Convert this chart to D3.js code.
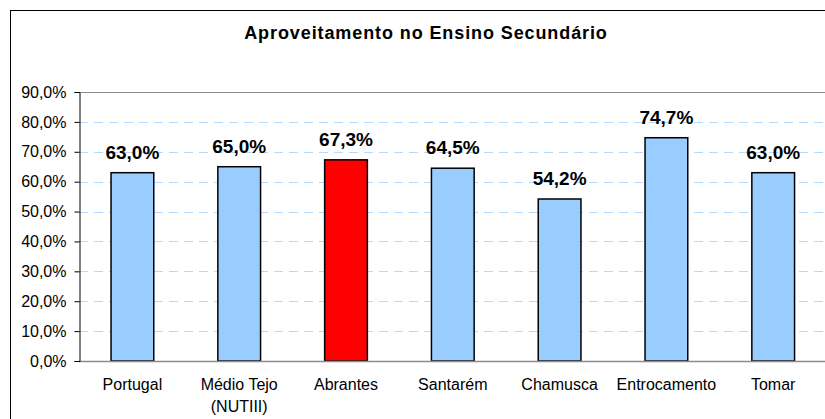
<html>
  <head>
    <script src="https://d3js.org/d3.v7.min.js" charset="utf-8"></script>
    <style type="text/css">
      body { margin: 0; padding: 0; background: #fff; }
      svg { display: block; font-family: "Liberation Sans", Arial, sans-serif; }
    </style>
  </head>
  <body>
    <div id="chart"></div>
    <script type="text/javascript">
      var categories = ["Portugal", "Médio Tejo|(NUTIII)", "Abrantes", "Santarém", "Chamusca", "Entrocamento", "Tomar"];
      var values = [63.0, 65.0, 67.3, 64.5, 54.2, 74.7, 63.0];
      var highlight = "Abrantes";
      var yTicks = [0, 10, 20, 30, 40, 50, 60, 70, 80, 90];
      var title = "Aproveitamento no Ensino Secundário";

      var width = 825, height = 419;
      var plotLeft = 79, plotTop = 92, plotBottom = 361, step = 106.8;

      var svg = d3.select("#chart").append("svg")
          .attr("width", width).attr("height", height);

      // outer frame (runs off the right and bottom of the picture)
      svg.append("rect")
          .attr("x", 10.5).attr("y", 10.5)
          .attr("width", 900).attr("height", 500)
          .attr("fill", "#fff").attr("stroke", "#000");

      var x = d3.scaleBand()
          .domain(categories)
          .range([plotLeft, plotLeft + step * categories.length])
          .paddingInner(0.6).paddingOuter(0.3);

      var y = d3.scaleLinear().domain([0, 90]).range([plotBottom, plotTop]);

      var fmt = function(v) { return d3.format(".1f")(v).replace(".", ",") + "%"; };

      // gridlines
      svg.append("g").selectAll("line")
          .data(yTicks.filter(function(d) { return d > 0 && d < 90; }))
          .enter().append("line")
          .attr("x1", plotLeft).attr("x2", width)
          .attr("y1", function(d) { return Math.round(y(d)) + 0.5; })
          .attr("y2", function(d) { return Math.round(y(d)) + 0.5; })
          .attr("stroke", "#b4dbff")
          .attr("stroke-dasharray", "9,6");

      // plot area top border
      svg.append("line")
          .attr("x1", plotLeft).attr("x2", width)
          .attr("y1", Math.round(y(90)) + 0.5).attr("y2", Math.round(y(90)) + 0.5)
          .attr("stroke", "#8c8c8c");

      // bars
      svg.append("g").selectAll("rect")
          .data(values)
          .enter().append("rect")
          .attr("x", function(d, i) { return x(categories[i]); })
          .attr("y", function(d) { return y(d); })
          .attr("width", x.bandwidth())
          .attr("height", function(d) { return y(0) - y(d); })
          .attr("fill", function(d, i) { return categories[i] == highlight ? "#ff0000" : "#99ccff"; })
          .attr("stroke", "#000")
          .attr("stroke-width", 1.5);

      // value labels
      svg.append("g").selectAll("text")
          .data(values)
          .enter().append("text")
          .attr("x", function(d, i) { return x(categories[i]) + x.bandwidth() / 2; })
          .attr("y", function(d) { return y(d) - 14; })
          .attr("text-anchor", "middle")
          .attr("font-size", "19px")
          .attr("font-weight", "bold")
          .attr("fill", "#000")
          .text(fmt);

      // x axis line
      svg.append("line")
          .attr("x1", plotLeft).attr("x2", width)
          .attr("y1", Math.round(y(0)) + 0.5).attr("y2", Math.round(y(0)) + 0.5)
          .attr("stroke", "#8c8c8c").attr("stroke-width", 1.5);

      // y axis
      var yAxis = d3.axisLeft(y)
          .tickValues(yTicks)
          .tickSize(5)
          .tickFormat(fmt);
      var gy = svg.append("g")
          .attr("transform", "translate(" + (plotLeft + 0.5) + ",0)")
          .call(yAxis);
      gy.select(".domain").attr("stroke", "#000");
      gy.selectAll(".tick line").attr("stroke", "#000");
      gy.selectAll(".tick text")
          .attr("x", -13)
          .attr("font-family", "'Liberation Sans', Arial, sans-serif")
          .attr("font-size", "16px")
          .attr("fill", "#000");

      // category labels
      var cl = svg.append("g").selectAll("text")
          .data(categories)
          .enter().append("text")
          .attr("x", function(d) { return x(d) + x.bandwidth() / 2; })
          .attr("y", 390)
          .attr("text-anchor", "middle")
          .attr("font-size", "16px")
          .attr("fill", "#000");
      cl.each(function(d) {
        var parts = d.split("|");
        var t = d3.select(this);
        parts.forEach(function(p, i) {
          t.append("tspan")
              .attr("x", t.attr("x"))
              .attr("dy", i == 0 ? 0 : 22)
              .text(p);
        });
      });

      // title
      svg.append("text")
          .attr("x", 426).attr("y", 39)
          .attr("text-anchor", "middle")
          .attr("font-size", "18px")
          .attr("font-weight", "bold")
          .attr("letter-spacing", "0.9px")
          .text(title);
    </script>
  </body>
</html>
